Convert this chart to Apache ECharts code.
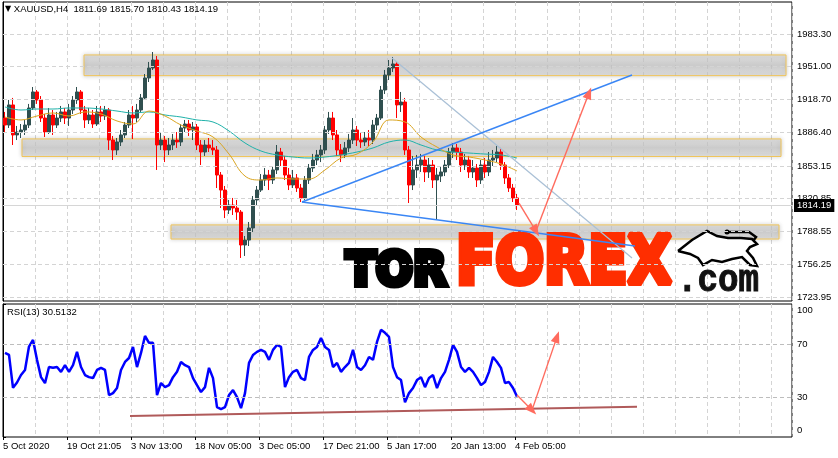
<!DOCTYPE html>
<html><head><meta charset="utf-8">
<script src="https://cdn.jsdelivr.net/npm/echarts@6/dist/echarts.min.js"></script>
<style>html,body{margin:0;padding:0;background:#fff}#c{width:838px;height:458px}</style>
</head><body><div id="c"></div>
<script>
// ---------- data ----------
const symbolName = 'XAUUSD,H4';
const headerValues = ['1811.69', '1815.70', '1810.43', '1814.19'];
const rsiName = 'RSI(13)';
const rsiLast = '30.5132';
const xLabels = ['5 Oct 2020', '19 Oct 21:05', '3 Nov 13:00', '18 Nov 05:00', '3 Dec 05:00', '17 Dec 21:00', '5 Jan 17:00', '20 Jan 13:00', '4 Feb 05:00'];
const yTicks = [1723.95, 1756.25, 1788.55, 1820.85, 1853.15, 1886.40, 1918.70, 1951.00, 1983.30];
const rsiTicks = [0, 30, 70, 100];
const rsiLevels = [30, 70];

const opens = [1900.4,1893.5,1913.3,1883.7,1886.6,1888.6,1893.5,1910.3,1926.1,1918.2,
1900.4,1886.6,1903.4,1893.5,1900.4,1906.4,1900.4,1908.3,1918.2,1926.1,
1908.3,1898.5,1903.4,1894.5,1906.4,1902.4,1908.3,1878.7,1868.9,1876.8,
1883.7,1893.5,1903.4,1900.4,1908.3,1920.2,1939.9,1949.7,1957.6,1873.8,
1878.7,1868.9,1873.8,1878.7,1876.8,1890.6,1894.5,1888.6,1891.6,1873.8,
1866.9,1873.8,1870.9,1868.9,1844.2,1829.4,1809.7,1814.6,1811.7,1807.7,
1775.2,1780.1,1792.0,1819.6,1829.4,1839.3,1844.2,1839.3,1849.2,1866.9,
1859.0,1844.2,1834.4,1841.3,1831.4,1821.6,1839.3,1851.1,1859.0,1864.0,
1868.9,1888.6,1900.4,1883.7,1868.9,1864.0,1870.9,1878.7,1888.6,1878.7,
1876.8,1880.7,1878.7,1893.5,1900.4,1928.0,1942.8,1949.7,1953.7,1913.3,
1916.2,1868.9,1834.4,1849.2,1854.1,1859.0,1847.2,1854.1,1839.3,1843.2,
1847.2,1854.1,1866.9,1870.9,1866.9,1854.1,1859.0,1847.2,1851.1,1839.3,
1854.1,1847.2,1859.0,1861.0,1866.9,1854.1,1841.3,1831.4,1821.6];
const closes = [1893.5,1913.3,1883.7,1886.6,1888.6,1893.5,1910.3,1926.1,1918.2,1900.4,
1886.6,1903.4,1893.5,1900.4,1906.4,1900.4,1908.3,1918.2,1926.1,1908.3,
1898.5,1903.4,1894.5,1906.4,1902.4,1908.3,1878.7,1868.9,1876.8,1883.7,
1893.5,1903.4,1900.4,1908.3,1920.2,1939.9,1949.7,1957.6,1873.8,1878.7,
1868.9,1873.8,1878.7,1876.8,1890.6,1894.5,1888.6,1891.6,1873.8,1866.9,
1873.8,1870.9,1868.9,1844.2,1829.4,1809.7,1814.6,1811.7,1807.7,1775.2,
1780.1,1792.0,1819.6,1829.4,1839.3,1844.2,1839.3,1849.2,1866.9,1859.0,
1844.2,1834.4,1841.3,1831.4,1821.6,1839.3,1851.1,1859.0,1864.0,1868.9,
1888.6,1900.4,1883.7,1868.9,1864.0,1870.9,1878.7,1888.6,1878.7,1876.8,
1880.7,1878.7,1893.5,1900.4,1928.0,1942.8,1949.7,1953.7,1913.3,1916.2,
1868.9,1834.4,1849.2,1854.1,1859.0,1847.2,1854.1,1839.3,1844.2,1847.2,
1854.1,1866.9,1870.9,1866.9,1854.1,1859.0,1847.2,1851.1,1839.3,1854.1,
1847.2,1859.0,1861.0,1866.9,1854.1,1841.3,1831.4,1821.6,1814.19];
const highs = [1906.4,1918.2,1920.2,1892.6,1894.5,1898.5,1914.3,1931.0,1928.0,1922.1,
1904.4,1910.3,1908.3,1906.4,1912.3,1910.3,1914.3,1922.1,1931.0,1928.0,
1912.3,1910.3,1908.3,1912.3,1912.3,1912.3,1910.3,1882.7,1880.7,1888.6,
1896.5,1908.3,1912.3,1914.3,1924.1,1943.8,1955.7,1965.5,1961.6,1886.6,
1882.7,1880.7,1884.7,1886.6,1894.5,1898.5,1898.5,1896.5,1894.5,1878.7,
1878.7,1880.7,1878.7,1872.8,1847.2,1833.4,1819.6,1821.6,1819.6,1809.7,
1784.1,1797.9,1823.5,1833.4,1845.2,1851.1,1849.2,1853.1,1873.8,1870.9,
1863.0,1851.1,1849.2,1845.2,1835.4,1843.2,1855.1,1865.0,1868.9,1873.8,
1892.6,1906.4,1906.4,1888.6,1874.8,1876.8,1884.7,1900.4,1892.6,1886.6,
1886.6,1888.6,1898.5,1904.4,1932.0,1947.8,1957.6,1960.6,1955.7,1926.1,
1920.2,1872.8,1863.0,1864.0,1865.0,1863.0,1861.0,1859.0,1851.1,1853.1,
1859.0,1870.9,1875.8,1874.8,1870.9,1865.0,1863.0,1859.0,1855.1,1859.0,
1861.0,1866.9,1868.9,1872.8,1870.9,1857.0,1845.2,1835.4,1825.6];
const lows = [1886.6,1890.6,1873.8,1878.7,1880.7,1883.7,1890.6,1908.3,1914.3,1896.5,
1881.7,1884.7,1883.7,1890.6,1896.5,1894.5,1892.6,1904.4,1914.3,1904.4,
1890.6,1894.5,1890.6,1892.6,1896.5,1898.5,1868.9,1859.0,1864.0,1872.8,
1880.7,1890.6,1879.7,1896.5,1906.4,1918.2,1935.9,1947.8,1849.2,1868.9,
1857.0,1864.0,1868.9,1870.9,1872.8,1886.6,1882.7,1878.7,1868.9,1854.1,
1863.0,1866.9,1864.0,1831.4,1811.7,1801.8,1805.8,1804.8,1799.9,1762.4,
1764.4,1774.2,1788.0,1813.7,1827.5,1833.4,1829.4,1835.4,1845.2,1853.1,
1839.3,1829.4,1831.4,1827.5,1817.6,1819.6,1835.4,1847.2,1854.1,1857.0,
1865.0,1884.7,1878.7,1863.0,1857.0,1861.0,1866.9,1874.8,1872.8,1870.9,
1872.8,1872.8,1874.8,1888.6,1898.5,1924.1,1937.9,1945.8,1900.4,1906.4,
1864.0,1816.6,1829.4,1841.3,1847.2,1837.3,1841.3,1831.4,1799.9,1837.3,
1843.2,1851.1,1861.0,1859.0,1847.2,1849.2,1841.3,1841.3,1832.4,1835.4,
1841.3,1843.2,1853.1,1857.0,1849.2,1835.4,1827.5,1817.6,1809.7];

// moving averages, one reading every 4 bars
const maFast = [1901.4,1898.5,1902.4,1905.4,1902.4,1906.4,1904.4,1897.5,1894.5,1907.3,1902.4,1893.5,1887.6,1881.7,1864.9,1843.2,1839.3,1841.3,1840.3,1840.3,1849.2,1861.0,1864.9,1876.8,1898.5,1896.5,1881.7,1871.8,1864.0,1862.0,1859.0,1855.1,1848.2];
const maSlow = [1911.3,1908.3,1909.3,1909.3,1910.3,1910.3,1909.3,1907.3,1905.4,1906.4,1903.4,1901.4,1898.5,1896.5,1887.6,1875.8,1867.9,1864.0,1862.0,1861.0,1862.0,1864.0,1866.9,1870.9,1876.8,1878.7,1873.8,1868.9,1866.9,1865.9,1864.9,1864.0,1861.0];

const rsi = [63.2,61.7,37,41,46.6,50.4,68,73,58,45,
40.5,52.6,52,52.6,49,54,49,54,64,52.6,
46.6,45,44.3,50.4,52,50.4,31.5,33,36.8,50.4,
56.4,59.4,67.7,52.6,63.2,76,70.8,70.8,31.5,40.6,
37.5,39,45,49,56.4,54,52.6,44.3,39,33.8,
37.5,52,44.3,22.5,21,22.5,31.5,35.3,30,21.7,
33,55.7,61.7,64,65.5,64,58,65.5,69.2,67.7,
37.5,45,49,50.4,44.3,42.8,60.2,65.5,67.7,74.5,
67.7,65.5,52.6,55.7,49,52.6,55.7,65.5,52.6,50.4,
54,60.2,58,71.5,80.6,78.3,75.3,52.6,45,42.8,
26.2,33,36.8,42.8,45,37.5,44.3,46.6,36.8,44.3,
49,58,69.2,64,52.6,49,52,49,44.3,39,
41.3,49,60.2,56.4,52,40.6,41.3,36.8,30.5];

// zones: [fromBar, toBar, upperPrice, lowerPrice]
const zones = [[20.25,195.75,1962.6,1942.2],[4.75,194.5,1879.8,1862.5],[42,194,1795.0,1781.1]];
// drawn lines in [bar, price]
const greyLine = [[97.25,1959.6],[157.25,1762.4]];
const blueUp = [[74.75,1817.6],[157.25,1942.8]];
const blueDown = [[74.75,1817.6],[158,1774.2]];
const priceArrowDown = [[129,1816.6],[133.25,1789.0]];
const priceArrowUp = [[133.25,1789.0],[146.5,1925.1]];
// RSI drawings in [bar, rsi]
const rsiTrend = [[31.75,15.7],[158.5,22.7]];
const rsiArrowDown = [[128.5,31.5],[132.25,20.2]];
const rsiArrowUp = [[132.25,20.2],[138.5,75.3]];

// ---------- chart ----------
const FONT = 'Liberation Sans';
const FS = 9.5;
const xMax = 197.25;
const lastClose = closes[closes.length - 1];
const candles = opens.map((o, i) => [i + 0.5, o, closes[i], lows[i], highs[i]]);
const maPts = arr => arr.map((v, i) => [i * 4 + 0.5, v]);
const xTickVals = xLabels.map((_, i) => i * 16);
const gridDash = { type: [4, 3], color: '#D4D4D4', width: 1 };
const seg = (pts, color, width, arrow) => [
  { coord: pts[0], symbol: 'none', lineStyle: { color, width, type: 'solid' } },
  { coord: pts[1], symbol: arrow ? 'triangle' : 'none', symbolSize: [9, 12] }
];

const chart = echarts.init(document.getElementById('c'));
chart.setOption({
  animation: false,
  backgroundColor: '#fff',
  textStyle: { fontFamily: FONT },
  title: [
    { left: 5, top: 4, padding: 0,
      text: '{tri|▼} ' + symbolName + '  ' + headerValues.join(' '),
      textStyle: { fontSize: FS, fontWeight: 'normal', color: '#000', fontFamily: FONT,
        rich: { tri: { fontSize: 8, fontFamily: 'DejaVu Sans', color: '#000' } } } },
    { left: 7, top: 307, padding: 0, text: rsiName + ' ' + rsiLast,
      textStyle: { fontSize: FS, fontWeight: 'normal', color: '#000', fontFamily: FONT } }
  ],
  grid: [
    { left: 3, top: 2, width: 789, height: 299, show: true, borderColor: '#000', borderWidth: 1, backgroundColor: 'transparent' },
    { left: 3, top: 304, width: 789, height: 133, show: true, borderColor: '#000', borderWidth: 1, backgroundColor: 'transparent' }
  ],
  xAxis: [
    { gridIndex: 0, type: 'value', min: 0, max: xMax, interval: 8, axisLine: { show: false }, axisTick: { show: false }, axisLabel: { show: false }, splitLine: { show: true, lineStyle: gridDash } },
    { gridIndex: 1, type: 'value', min: 0, max: xMax, interval: 8, position: 'bottom', axisLine: { show: false }, axisTick: { show: false }, axisLabel: { show: false }, splitLine: { show: true, lineStyle: gridDash } },
    { gridIndex: 1, type: 'value', min: 0, max: xMax, position: 'bottom', axisLine: { show: false },
      axisTick: { show: true, customValues: xTickVals, length: 3, lineStyle: { color: '#000' } },
      axisLabel: { customValues: xTickVals, formatter: v => xLabels[Math.round(v / 16)] || '', align: 'left', margin: 4, fontSize: FS, color: '#000', fontFamily: FONT },
      splitLine: { show: false } }
  ],
  yAxis: [
    { gridIndex: 0, type: 'value', min: 1720.0, max: 2014.8, position: 'right',
      axisLine: { show: true, lineStyle: { color: '#000' } },
      axisTick: { show: true, customValues: yTicks, length: 3, lineStyle: { color: '#000' } },
      axisLabel: { customValues: yTicks, formatter: v => v.toFixed(2), margin: 5, fontSize: FS, color: '#000', fontFamily: FONT },
      splitLine: { show: false } },
    { gridIndex: 1, type: 'value', min: 0, max: 100, position: 'right',
      axisLine: { show: true, lineStyle: { color: '#000' } },
      axisTick: { show: true, customValues: rsiTicks, length: 3, lineStyle: { color: '#000' } },
      axisLabel: { customValues: rsiTicks, margin: 5, fontSize: FS, color: '#000', fontFamily: FONT,
        formatter: v => v === 100 ? '{t|100}' : (v === 0 ? '{b|0}' : String(v)),
        rich: { t: { padding: [12, 0, 0, 0], fontSize: FS, fontFamily: FONT, color: '#000' },
                b: { padding: [0, 0, 13, 0], fontSize: FS, fontFamily: FONT, color: '#000' } } },
      splitLine: { show: false } }
  ],
  graphic: { elements: [
    { type: 'text', x: 346, y: 273, z: 5, scaleX: 0.95, silent: true,
      style: { text: 'TOR', font: 'bold 46px "DejaVu Sans"', fill: '#000', stroke: '#000', lineWidth: 6, lineJoin: 'round', align: 'left', verticalAlign: 'middle' } },
    { type: 'text', x: 456, y: 265.5, z: 5, scaleX: 0.87, silent: true,
      style: { text: 'FOREX', font: 'bold 66px "DejaVu Sans"', fill: '#FF2E00', stroke: '#FF2E00', lineWidth: 6, lineJoin: 'round', align: 'left', verticalAlign: 'middle' } },
    { type: 'text', x: 677, y: 281, z: 5, scaleX: 0.9, silent: true,
      style: { text: '.com', font: 'bold 38px "Liberation Mono"', fill: '#111', stroke: '#111', lineWidth: 1, align: 'left', verticalAlign: 'middle' } },
    { type: 'polyline', z: 5, silent: true,
      shape: { points: [[678,251],[692,240],[707,231],[717,236],[728,238],[741,238],[752,239],[757,244],[750,247],[747,251],[753,258],[757,266],[750,265],[742,257],[732,259],[722,262],[712,260],[703,265],[698,258],[690,254],[678,251]] },
      style: { stroke: '#000', lineWidth: 2.5, fill: '#fff' } },
    { type: 'polyline', z: 5, silent: true,
      shape: { points: [[727,232],[749,232],[756,237],[753,241]] },
      style: { stroke: '#000', lineWidth: 2.5, fill: 'none' } },
    { type: 'circle', z: 5, silent: true, shape: { cx: 727, cy: 232, r: 2.5 }, style: { fill: '#000' } }
  ] },
  series: [
    { type: 'line', name: 'gridY', xAxisIndex: 0, yAxisIndex: 0, data: [], z: 1, silent: true,
      markLine: { silent: true, symbol: ['none', 'none'], label: { show: false }, lineStyle: gridDash,
        data: yTicks.map(v => ({ yAxis: v })) } },
    { type: 'candlestick', name: 'price', xAxisIndex: 0, yAxisIndex: 0, data: candles,
      encode: { x: 0, y: [1, 2, 3, 4] }, barWidth: 3, z: 2, silent: true,
      itemStyle: { color: '#2F4F4F', color0: '#FF0000', borderColor: '#2F4F4F', borderColor0: '#FF0000', borderWidth: 1 },
      markLine: { silent: true, symbol: ['none', 'none'],
        lineStyle: { color: '#D6D6D6', type: 'solid', width: 1 },
        label: { show: true, position: 'end', distance: 2, formatter: lastClose.toFixed(2), color: '#fff', backgroundColor: '#000', padding: [2, 3, 1, 3], fontSize: FS, fontFamily: FONT },
        data: [{ yAxis: lastClose }] } },
    { type: 'line', name: 'maSlow', xAxisIndex: 0, yAxisIndex: 0, data: maPts(maSlow), smooth: 0.4, symbol: 'none', z: 3, silent: true,
      lineStyle: { color: '#20B2AA', width: 1 } },
    { type: 'line', name: 'maFast', xAxisIndex: 0, yAxisIndex: 0, data: maPts(maFast), smooth: 0.4, symbol: 'none', z: 3, silent: true,
      lineStyle: { color: '#DAA520', width: 1 } },
    { type: 'line', name: 'zones', xAxisIndex: 0, yAxisIndex: 0, data: [], z: 10, silent: true,
      markArea: { silent: true,
        itemStyle: { color: { type: 'linear', x: 0, y: 0, x2: 0, y2: 1, colorStops: [
            { offset: 0, color: 'rgba(222,222,222,0.55)' }, { offset: 0.5, color: 'rgba(200,200,200,0.72)' }, { offset: 1, color: 'rgba(222,222,222,0.55)' }] },
          borderColor: '#F0C458', borderWidth: 1, shadowBlur: 4, shadowColor: 'rgba(0,0,0,0.25)' },
        data: zones.map(z => [{ coord: [z[0], z[2]] }, { coord: [z[1], z[3]] }]) } },
    { type: 'line', name: 'drawings', xAxisIndex: 0, yAxisIndex: 0, data: [], z: 12, silent: true,
      markLine: { silent: true, label: { show: false }, symbol: ['none', 'none'],
        itemStyle: { color: '#FF6B5E' },
        data: [
          seg(greyLine, '#A9C0D6', 1.2, false),
          seg(blueUp, '#3A86F5', 1.4, false),
          seg(blueDown, '#3A86F5', 1.4, false),
          seg(priceArrowDown, '#FF6B5E', 1.4, true),
          seg(priceArrowUp, '#FF6B5E', 1.4, true)
        ] } },
    { type: 'line', name: 'rsi', xAxisIndex: 1, yAxisIndex: 1, data: rsi.map((v, i) => [i + 0.5, v]), symbol: 'none', z: 3, silent: true,
      lineStyle: { color: '#0000FF', width: 2.5 },
      markLine: { silent: true, symbol: ['none', 'none'], label: { show: false },
        lineStyle: { type: [4, 3], color: '#BDBDBD', width: 1 },
        data: rsiLevels.map(v => ({ yAxis: v })) } },
    { type: 'line', name: 'rsiDrawings', xAxisIndex: 1, yAxisIndex: 1, data: [], z: 4, silent: true,
      markLine: { silent: true, label: { show: false }, symbol: ['none', 'none'],
        itemStyle: { color: '#FF6B5E' },
        data: [
          seg(rsiTrend, '#B05A5A', 2, false),
          seg(rsiArrowDown, '#FF6B5E', 1.4, true),
          seg(rsiArrowUp, '#FF6B5E', 1.4, true)
        ] } }
  ]
});
</script></body></html>
